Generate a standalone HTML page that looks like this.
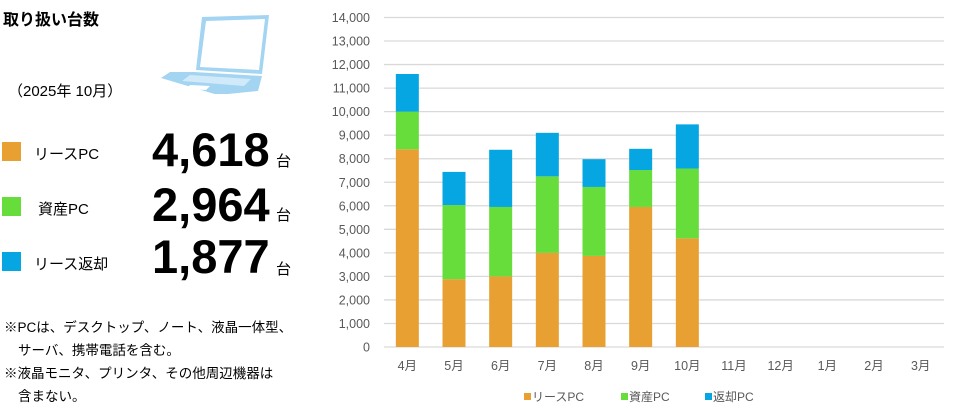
<!DOCTYPE html>
<html><head><meta charset="utf-8"><style>
body{margin:0;width:956px;height:408px;background:#fff;position:relative;overflow:hidden;font-family:"Liberation Sans","Noto Sans CJK JP",sans-serif;color:#000}
.a{position:absolute;white-space:nowrap}
.sq{position:absolute;width:19px;height:19px}
.big{position:absolute;font-weight:bold;font-size:47px;letter-spacing:0px;line-height:1}
.dai{position:absolute;font-size:15px}
.fn{position:absolute;font-size:13.5px;left:4px}
</style></head><body>
<div class="a" style="left:3px;top:6px;font-size:16px;font-weight:bold">取り扱い台数</div>
<div class="a" style="left:8px;top:80px;font-size:15px">（2025年 10月）</div>
<svg class="a" style="left:158px;top:12px" width="115" height="82" viewBox="0 0 115 82">
<polygon points="44,5 111,3 104,62 38,58" fill="#a3d4f2"/>
<polygon points="48,9 107,7 101,58 42,55" fill="#fff"/>
<polygon points="36,60 104,64 100,79 60,83 3,66 12,60" fill="#a3d4f2"/>
<polygon points="32,63 93,67 86,74 24,69" fill="#fff" opacity=".5"/>
<polygon points="32,73 52,74 48,78 28,77" fill="#fff"/>
</svg>
<div class="sq" style="left:2px;top:142px;background:#e8a033"></div>
<div class="a" style="left:34px;top:143px;font-size:15px">リースPC</div>
<div class="big" style="left:152px;top:126px">4,618</div>
<div class="dai" style="left:276px;top:150px">台</div>
<div class="sq" style="left:2px;top:197px;background:#66dd3a"></div>
<div class="a" style="left:38px;top:198px;font-size:15px">資産PC</div>
<div class="big" style="left:152px;top:181px">2,964</div>
<div class="dai" style="left:276px;top:204px">台</div>
<div class="sq" style="left:2px;top:252px;background:#05a6e2"></div>
<div class="a" style="left:34px;top:253px;font-size:15px">リース返却</div>
<div class="big" style="left:152px;top:233px">1,877</div>
<div class="dai" style="left:276px;top:258px">台</div>
<div class="fn" style="top:316px">※PCは、デスクトップ、ノート、液晶一体型、</div>
<div class="fn" style="top:339px;left:18px">サーバ、携帯電話を含む。</div>
<div class="fn" style="top:362px">※液晶モニタ、プリンタ、その他周辺機器は</div>
<div class="fn" style="top:385px;left:18px">含まない。</div>
<svg class="a" style="left:0;top:0" width="956" height="408">
<g id="grid" stroke="#d9d9d9" stroke-width="1.3"></g>
<g id="bars"></g>
<g id="lab" font-size="12.5" fill="#595959" font-family="Liberation Sans,Noto Sans CJK JP,sans-serif"></g>
<g font-size="12" fill="#595959" font-family="Liberation Sans,Noto Sans CJK JP,sans-serif">
<rect x="524" y="393" width="7" height="7" fill="#e8a033"/><text x="532" y="401">リースPC</text>
<rect x="621" y="393" width="7" height="7" fill="#66dd3a"/><text x="629" y="401">資産PC</text>
<rect x="705" y="393" width="7" height="7" fill="#05a6e2"/><text x="713" y="401">返却PC</text>
</g>
</svg>
<script>
var ns="http://www.w3.org/2000/svg";
function el(t,a,p,txt){var e=document.createElementNS(ns,t);for(var k in a)e.setAttribute(k,a[k]);if(txt)e.textContent=txt;document.getElementById(p).appendChild(e);}
var y0=347,s=(347-17.5)/14000;
for(var i=0;i<=14;i++){var y=y0-i*1000*s;el('line',{x1:384,x2:944,y1:y,y2:y},'grid');el('text',{x:370,y:y+4.5,'text-anchor':'end'},'lab',(i*1000).toLocaleString('en-US'));}
var d=[[8400,10000,11600],[2880,6030,7440],[3000,5950,8380],[4000,7250,9100],[3870,6800,7980],[5950,7520,8420],[4618,7582,9459]];
var m=['4月','5月','6月','7月','8月','9月','10月','11月','12月','1月','2月','3月'];
var w=560/12,c=['#e8a033','#66dd3a','#05a6e2'];
for(var j=0;j<12;j++){var cx=384+w*(j+0.5);el('text',{x:cx,y:370,'text-anchor':'middle'},'lab',m[j]);
if(d[j]){var prev=0;for(var k=0;k<3;k++){el('rect',{x:cx-11.5,y:y0-d[j][k]*s,width:23,height:(d[j][k]-prev)*s,fill:c[k]},'bars');prev=d[j][k];}}}
</script>
</body></html>
